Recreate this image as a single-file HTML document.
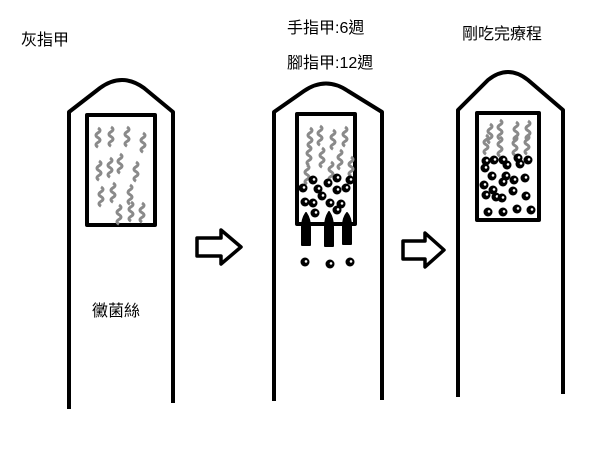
<!DOCTYPE html>
<html><head><meta charset="utf-8"><style>
html,body{margin:0;padding:0;background:#fff;}
svg{display:block}
text{font-family:"Liberation Sans","Noto Sans CJK TC",sans-serif;font-size:16px;fill:#000}
</style></head><body>
<svg width="600" height="450" viewBox="0 0 600 450" xmlns="http://www.w3.org/2000/svg">
<defs>
<g id="w"><path d="M0 0 q4 2.4 0 4.8 q-4 2.4 0 4.8 q4 2.4 0 4.8 q-4 2.4 0 4.8" fill="none" stroke="#8a8a8a" stroke-width="3"/></g>
<g id="s"><circle r="4.5" fill="#000"/><circle r="1.3" fill="#fff" cx="1" cy="-0.6"/></g>
</defs>
<g fill="none" stroke="#000" stroke-width="4" stroke-linejoin="round">
<path d="M69 409 V112 L100 88 Q122 72 144 88 L173 112 V403"/>
<rect x="87" y="115" width="68" height="110"/>
<path d="M274 401 V112 L304 91 Q326 76 348 91 L382 112 V400"/>
<rect x="297" y="114" width="58" height="110"/>
<path d="M458 397 V110 L488 80 Q508 64 528 80 L563 110 V394"/>
<rect x="477" y="113" width="62" height="107"/>
<path d="M197 238 h24 v-8 l20 17 l-20 17 v-8 h-24 z" stroke-width="3.5"/>
<path d="M403 241 h22 v-8 l19 17 l-19 17 v-8 h-22 z" stroke-width="3.5"/>
</g>
<g>
<use href="#w" x="98" y="128"/><use href="#w" x="111" y="127"/><use href="#w" x="127" y="127"/><use href="#w" x="143" y="133"/>
<use href="#w" x="99" y="161"/><use href="#w" x="110" y="158"/><use href="#w" x="120" y="154"/><use href="#w" x="136" y="162"/>
<use href="#w" x="101" y="187"/><use href="#w" x="113" y="183"/><use href="#w" x="130" y="185"/>
<use href="#w" x="119" y="205"/><use href="#w" x="131" y="202"/><use href="#w" x="142" y="203"/>
<use href="#w" x="310" y="128"/><use href="#w" x="320" y="126"/><use href="#w" x="333" y="130"/><use href="#w" x="345" y="127"/>
<use href="#w" x="309" y="146"/><use href="#w" x="322" y="148"/><use href="#w" x="340" y="150"/>
<use href="#w" x="307" y="165"/><use href="#w" x="331" y="162"/><use href="#w" x="351" y="157"/>
<use href="#w" x="490" y="124"/><use href="#w" x="500" y="120"/><use href="#w" x="516" y="122"/><use href="#w" x="528" y="121"/>
<use href="#w" x="486" y="135"/><use href="#w" x="500" y="137"/><use href="#w" x="515" y="136"/><use href="#w" x="527" y="135"/>
</g>
<g>
<use href="#s" x="313" y="180"/><use href="#s" x="328" y="183"/><use href="#s" x="337" y="178"/><use href="#s" x="350" y="180"/>
<use href="#s" x="303" y="188"/><use href="#s" x="318" y="189"/><use href="#s" x="337" y="190"/><use href="#s" x="346" y="188"/>
<use href="#s" x="322" y="196"/><use href="#s" x="305" y="202"/><use href="#s" x="313" y="203"/><use href="#s" x="330" y="203"/><use href="#s" x="341" y="204"/>
<use href="#s" x="315" y="213"/><use href="#s" x="337" y="210"/>
<use href="#s" x="305" y="262"/><use href="#s" x="330" y="264"/><use href="#s" x="350" y="262"/>
</g>
<g fill="#000" stroke="#000" stroke-width="2" stroke-linejoin="round">
<path d="M302 245 v-18 q0 -8 4 -14 q4 6 4 14 v18 z"/>
<path d="M325 246 v-19 q0 -9 4 -15 q4 6 4 15 v19 z"/>
<path d="M343 244 v-18 q0 -8 4 -13 q4 5 4 13 v18 z"/>
</g>
<g>
<use href="#s" x="486" y="161"/><use href="#s" x="494" y="160"/><use href="#s" x="503" y="160"/><use href="#s" x="507" y="165"/><use href="#s" x="518" y="158"/><use href="#s" x="520" y="164"/><use href="#s" x="528" y="160"/>
<use href="#s" x="485" y="168"/>
<use href="#s" x="492" y="176"/><use href="#s" x="506" y="176"/><use href="#s" x="503" y="182"/><use href="#s" x="514" y="180"/><use href="#s" x="525" y="178"/>
<use href="#s" x="484" y="185"/><use href="#s" x="493" y="190"/><use href="#s" x="486" y="195"/><use href="#s" x="496" y="197"/><use href="#s" x="502" y="198"/><use href="#s" x="513" y="191"/><use href="#s" x="526" y="196"/>
<use href="#s" x="488" y="212"/><use href="#s" x="503" y="212"/><use href="#s" x="517" y="209"/><use href="#s" x="531" y="210"/>
</g>
<text x="21" y="45">灰指甲</text>
<text x="287" y="33">手指甲:6週</text>
<text x="287" y="68">腳指甲:12週</text>
<text x="462" y="39">剛吃完療程</text>
<text x="92" y="316">黴菌絲</text>
</svg>
</body></html>
